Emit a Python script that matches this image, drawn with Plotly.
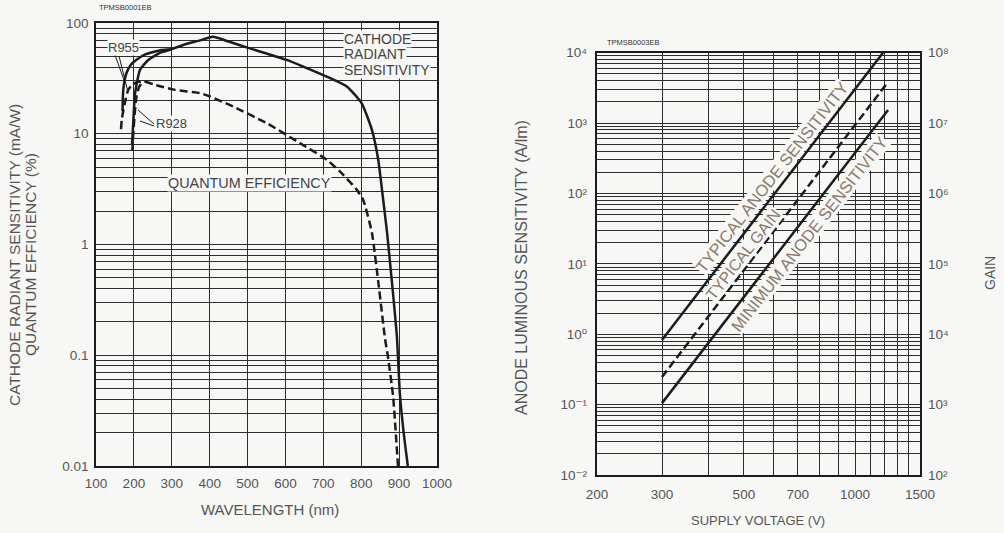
import math
import plotly.graph_objects as go

W, H = 1004, 533

# ---------------- Left chart: spectral response ----------------
# common cathode radiant sensitivity (mA/W), solid
cath_nm = [300, 340, 370, 409, 450, 506, 550, 603, 650, 709, 762, 801, 828, 845, 857, 868, 881, 894, 902, 912, 923]
cath_val = [58, 65, 69, 75, 68, 59, 53, 46.4, 40, 32.8, 26.7, 18.9, 10.9, 5.8, 2.7, 1.3, 0.46, 0.15, 0.045, 0.02, 0.01]
# R955 start branch (solid)
r955_cath_nm = [170, 172, 180, 192, 207, 230, 273, 300]
r955_cath_val = [16, 25, 35, 42, 46.5, 52, 57, 58]
# R928 start branch (solid)
r928_cath_nm = [195, 198, 203, 216, 238, 270, 300]
r928_cath_val = [8, 12, 23, 37.7, 46.4, 54, 58]

# common quantum efficiency (%), dashed
qe_nm = [229, 256, 308, 374, 401, 462, 550, 638, 709, 752, 788, 805, 828, 845, 863, 870, 884, 897]
qe_val = [29.6, 27.6, 24.9, 23.3, 21.7, 17.6, 12.5, 8.24, 5.83, 4.28, 3.13, 2.54, 1.29, 0.46, 0.14, 0.1, 0.043, 0.01]
r955_qe_nm = [166, 168, 176, 185, 195, 205, 215, 229]
r955_qe_val = [11, 13.4, 19, 24.9, 27.5, 29, 29.5, 29.6]
r928_qe_nm = [196, 198, 202, 207, 215, 229]
r928_qe_val = [7, 9.5, 15, 21.8, 27, 29.6]

left_x_ticks = [100, 200, 300, 400, 500, 600, 700, 800, 900, 1000]
left_y_ticks = [0.01, 0.1, 1, 10, 100]
left_y_text = ["0.01", "0.1", "1", "10", "100"]

# ---------------- Right chart: voltage characteristics ----------------
typ_anode_v = [300, 1191]
typ_anode_val = [0.83, 1.0e4]        # A/lm
typ_gain_v = [300, 1229]
typ_gain_val = [2.47e3, 3.84e7]      # gain
min_anode_v = [300, 1229]
min_anode_val = [0.105, 1535]        # A/lm

right_x_ticks = [200, 300, 500, 700, 1000, 1500]
right_x_grid = [400, 600, 800, 900, 1100, 1200, 1300, 1400]
anode_ticks = [1e-2, 1e-1, 1e0, 1e1, 1e2, 1e3, 1e4]
anode_text = ["10⁻²", "10⁻¹", "10⁰", "10¹", "10²", "10³", "10⁴"]
gain_ticks = [1e2, 1e3, 1e4, 1e5, 1e6, 1e7, 1e8]
gain_text = ["10²", "10³", "10⁴", "10⁵", "10⁶", "10⁷", "10⁸"]

# ---------------- style ----------------
BG = "#f7f7f5"
INK = "#1c1c1c"
GRID = "#2e2e2e"
TXT = "#555555"
LBL = "#8a7a6c"
FONT = "Liberation Sans, Arial, DejaVu Sans, sans-serif"
LW = 2.5
DASH = "8px,4px"


def px(x):
    return x / W


def py(y):
    return 1 - y / H


def log_minor(lo, hi):
    return [m * 10 ** e for e in range(lo, hi) for m in range(2, 10)]


fig = go.Figure()


def add(x, y, dash=None, xa="x", ya="y"):
    fig.add_trace(go.Scatter(x=x, y=y, mode="lines", xaxis=xa, yaxis=ya, showlegend=False,
                             hoverinfo="skip",
                             line=dict(color=INK, width=LW, dash=dash or "solid",
                                       shape="spline", smoothing=0.5)))


add(cath_nm, cath_val)
add(r955_cath_nm, r955_cath_val)
add(r928_cath_nm, r928_cath_val)
add(qe_nm, qe_val, DASH)
add(r955_qe_nm, r955_qe_val, DASH)
add(r928_qe_nm, r928_qe_val, DASH)

add(typ_anode_v, typ_anode_val, xa="x2", ya="y2")
add(min_anode_v, min_anode_val, xa="x2", ya="y2")
add(typ_gain_v, typ_gain_val, DASH, xa="x2", ya="y3")

tickfont = dict(family=FONT, size=13.5, color=TXT)
grid_common = dict(showgrid=True, gridcolor=GRID, gridwidth=1, zeroline=False, automargin=False,
                   showline=True, linecolor=INK, ticks="", tickfont=tickfont)

fig.update_layout(
    template="none",
    width=W, height=H,
    margin=dict(l=0, r=0, t=0, b=0, pad=0),
    paper_bgcolor=BG, plot_bgcolor=BG,
    font=dict(family=FONT, color=TXT),
    showlegend=False,
    xaxis=dict(domain=[px(96), px(437)], range=[100, 1000], tickvals=left_x_ticks,
               anchor="y", mirror=True, linewidth=1.6, ticklabelstandoff=4, **grid_common),
    yaxis=dict(domain=[py(466), py(23)], type="log", range=[-2, 2], tickvals=left_y_ticks,
               ticktext=left_y_text, anchor="x", mirror=True, linewidth=1.6, ticklabelstandoff=3,
               minor=dict(tickvals=log_minor(-2, 2), showgrid=True, gridcolor=GRID, gridwidth=1, ticks=""),
               **grid_common),
    xaxis2=dict(domain=[px(597), px(920)], type="log", range=[math.log10(200), math.log10(1500)],
                tickvals=right_x_ticks, anchor="y2", mirror=True, linewidth=2.4, ticklabelstandoff=6,
                minor=dict(tickvals=right_x_grid, showgrid=True, gridcolor=GRID, gridwidth=1, ticks=""),
                **grid_common),
    yaxis2=dict(domain=[py(475), py(52.7)], type="log", range=[-2, 4], tickvals=anode_ticks,
                ticktext=anode_text, anchor="x2", mirror=True, linewidth=2.4, ticklabelstandoff=5,
                minor=dict(tickvals=log_minor(-2, 4), showgrid=True, gridcolor=GRID, gridwidth=1, ticks=""),
                **grid_common),
    yaxis3=dict(type="log", range=[2, 8], tickvals=gain_ticks, ticktext=gain_text,
                overlaying="y2", side="right", anchor="x2", showgrid=False, zeroline=False,
                automargin=False, showline=False, ticks="", tickfont=tickfont, ticklabelstandoff=7),
)

ann = []


def text(x, y, s, size=12, color=TXT, angle=0, bg=None, xanchor="center"):
    d = dict(x=px(x), y=py(y), xref="paper", yref="paper", text=s, showarrow=False,
             textangle=angle, xanchor=xanchor, yanchor="middle",
             font=dict(family=FONT, size=size, color=color))
    if bg:
        d.update(bgcolor=bg, borderpad=0)
    ann.append(d)


shapes = []


def leader(x0, y0, x1, y1):
    shapes.append(dict(type="line", xref="paper", yref="paper",
                       x0=px(x0), y0=py(y0), x1=px(x1), y1=py(y1),
                       line=dict(color=INK, width=1)))


# axis titles
text(15, 255, "CATHODE RADIANT SENSITIVITY (mA/W)", size=15.5, angle=-90)
text(31, 255, "QUANTUM EFFICIENCY (%)", size=15.5, angle=-90)
text(270, 509, "WAVELENGTH (nm)", size=15)
text(521, 268, "ANODE LUMINOUS SENSITIVITY (A/lm)", size=16, angle=-90)
text(758, 520, "SUPPLY VOLTAGE (V)", size=13)
text(990, 273, "GAIN", size=14, angle=-90)

# document codes
text(97, 8, "TPMSB0001EB", size=7.5, color="#333333", xanchor="left")
text(605, 42, "TPMSB0003EB", size=7.5, color="#333333", xanchor="left")

# left chart labels
text(343, 39, "CATHODE", size=14, color="#444444", bg=BG, xanchor="left")
text(343, 54, "RADIANT", size=14, color="#444444", bg=BG, xanchor="left")
text(343, 70, "SENSITIVITY", size=14, color="#444444", bg=BG, xanchor="left")
text(249, 183, "QUANTUM EFFICIENCY", size=14.4, color="#444444", bg=BG)
text(123, 47, "R955", size=13, color="#444444", bg=BG)
text(171, 123, "R928", size=13, color="#444444", bg=BG)
leader(115, 55, 124, 80)
leader(119, 56, 128, 92)
leader(154, 124, 138, 110)
leader(154, 126, 140, 121)

# right chart labels
text(772, 177, "TYPICAL ANODE SENSITIVITY", size=16.5, color=LBL, angle=-52, bg=BG)
text(743, 254, "TYPICAL GAIN", size=16, color=LBL, angle=-52, bg=BG)
text(809, 234, "MINIMUM ANODE SENSITIVITY", size=16.5, color=LBL, angle=-52, bg=BG)

fig.update_layout(annotations=ann, shapes=shapes)
fig.write_html("out.html", config={"displayModeBar": False},
               post_script="document.body.style.margin='0px';")
